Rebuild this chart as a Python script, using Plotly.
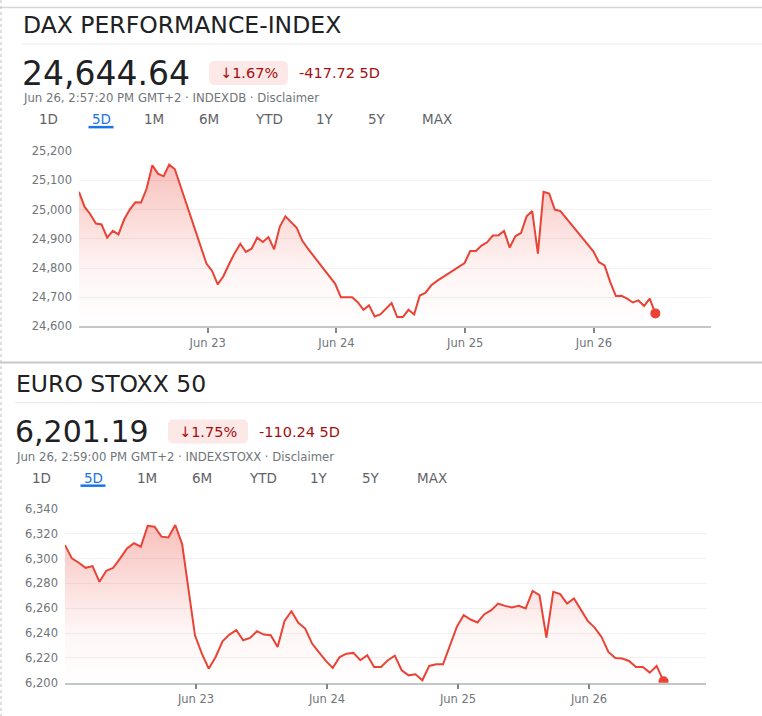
import plotly.graph_objects as go

W, H = 762, 716

# DAX, 5 Tage, Werte je Handelstag (Halbstundenraster)
dax_jun22 = [25061, 25009, 24984, 24952, 24949, 24904, 24927, 24915, 24966, 25000,
             25025, 25024, 25072, 25152, 25123, 25114, 25154, 25138]
dax_jun23 = [24815, 24790, 24744, 24772, 24813, 24851, 24883, 24855, 24866, 24904,
             24889, 24906, 24864, 24941, 24977, 24958, 24938, 24893, 24866]
dax_jun24 = [24746, 24700, 24700, 24700, 24683, 24657, 24672, 24634, 24641, 24661,
             24680, 24632, 24632, 24657, 24641, 24706, 24715, 24740, 24755]
dax_jun25 = [24817, 24858, 24858, 24877, 24888, 24911, 24912, 24927, 24870, 24909,
             24920, 24977, 24995, 24849, 25061, 25055, 25000, 24995]
dax_jun26 = [24857, 24820, 24809, 24752, 24704, 24705, 24695, 24682, 24689, 24670,
             24695, 24644.64]
dax_days = [dax_jun22, dax_jun23, dax_jun24, dax_jun25, dax_jun26]
dax_day_start = [0, 0.99, 1.99, 2.995, 3.995]
dax_step = 0.0438

# EURO STOXX 50
stoxx_jun22 = [6310.9, 6300.2, 6296.7, 6292.6, 6294.0, 6281.3, 6290.2, 6292.6, 6300.2,
               6308.2, 6312.5, 6309.6, 6326.5, 6325.7, 6317.7, 6317.1, 6327.1, 6311.7]
stoxx_jun23_26 = [6238.2, 6223.4, 6211.3, 6220.7, 6233.4, 6238.8, 6242.3, 6234.2, 6236.1,
                  6241.5, 6238.8, 6238.2, 6228.8, 6249.8, 6257.6, 6248.2, 6243.6, 6231.5,
                  6224.5, 6217.5, 6211.9, 6220.7, 6223.4, 6224.0, 6218.1, 6222.1, 6212.7,
                  6212.7, 6218.1, 6221.8, 6210.0, 6205.9, 6206.7, 6201.9, 6213.5, 6214.8,
                  6214.8, 6230.2, 6245.0, 6254.4, 6250.9, 6248.5, 6255.2, 6258.4, 6263.8,
                  6261.9, 6260.6, 6261.9, 6259.8, 6274.0, 6270.6, 6236.4, 6273.3, 6271.4,
                  6263.8, 6267.9, 6258.4, 6249.8, 6244.4, 6236.9, 6224.8, 6219.9, 6219.4,
                  6217.5, 6212.7, 6212.7, 6208.1, 6213.5, 6201.19]
stoxx_days = [stoxx_jun22, stoxx_jun23_26]
stoxx_day_start = [0, 0.992]
stoxx_step = 0.0526

tick_days = [1, 2, 3, 4]
tick_text = ["Jun 23", "Jun 24", "Jun 25", "Jun 26"]
dax_ticks = [24600, 24700, 24800, 24900, 25000, 25100, 25200]
stoxx_ticks = [6200, 6220, 6240, 6260, 6280, 6300, 6320, 6340]
tabs = ["1D", "5D", "1M", "6M", "YTD", "1Y", "5Y", "MAX"]

RED = "#ea4335"
DARK = "#202124"
GREY = "#70757a"
FONT = "DejaVu Sans"


def series(days, starts, step):
    xs, ys = [], []
    for vals, s in zip(days, starts):
        for i, v in enumerate(vals):
            xs.append(s + i * step)
            ys.append(v)
    return xs, ys


def px(x):
    return x / W


def py(y):
    # screenshot comes out slightly squeezed vertically, compensate
    return 1 - ((y - 7.04) / 0.979) / H


dax_x, dax_y = series(dax_days, dax_day_start, dax_step)
stx_x, stx_y = series(stoxx_days, stoxx_day_start, stoxx_step)

fig = go.Figure()

for xs, ys, ax, lo in [(dax_x, dax_y, "", dax_ticks[0]), (stx_x, stx_y, "2", stoxx_ticks[0])]:
    fig.add_trace(go.Scatter(
        x=xs, y=ys, mode="lines", xaxis="x" + ax, yaxis="y" + ax,
        line=dict(color=RED, width=2),
        fill="tozeroy",
        fillgradient=dict(type="vertical", start=lo, stop=max(ys),
                          colorscale=[[0, "rgba(234,67,53,0)"],
                                      [0.35, "rgba(234,67,53,0.05)"],
                                      [1, "rgba(234,67,53,0.33)"]]),
        hoverinfo="skip", showlegend=False))
    fig.add_trace(go.Scatter(
        x=[xs[-1]], y=[ys[-1]], mode="markers", xaxis="x" + ax, yaxis="y" + ax,
        marker=dict(color=RED, size=10), showlegend=False, hoverinfo="skip"))

xax = dict(tickvals=tick_days, ticktext=tick_text, showgrid=False, zeroline=False,
           showline=True, linecolor="#c4c7c5", linewidth=1.5,
           ticks="outside", ticklen=5, tickwidth=1.5, tickcolor="#80868b",
           tickfont=dict(family=FONT, size=11.5, color=GREY), fixedrange=True)
yax = dict(showgrid=True, gridcolor="#f1f1f1", gridwidth=1, zeroline=False,
           tickformat=",d", ticks="", ticklabelstandoff=6,
           tickfont=dict(family=FONT, size=11.5, color=GREY), fixedrange=True)

fig.update_layout(
    width=W, height=H,
    margin=dict(l=0, r=0, t=0, b=0),
    paper_bgcolor="white", plot_bgcolor="white",
    xaxis=dict(xax, domain=[px(79), px(711)], range=[0, 4.909]),
    yaxis=dict(yax, domain=[py(326), py(151)], range=[24600, 25200], tickvals=dax_ticks),
    xaxis2=dict(xax, domain=[px(65), px(706)], range=[0, 4.893], anchor="y2"),
    yaxis2=dict(yax, domain=[py(681.7), py(508.3)], range=[6200, 6340],
                tickvals=stoxx_ticks, anchor="x2"),
)

ann = []
shapes = []


def text(x, y, s, size, color, weight=400, anchor="left"):
    ann.append(dict(x=px(x), y=py(y), xref="paper", yref="paper", text=s, showarrow=False,
                    xanchor=anchor, yanchor="middle",
                    font=dict(family=FONT, size=size, color=color, weight=weight)))


def line(x0, y0, x1, y1, color, width=1, dash="solid"):
    shapes.append(dict(type="line", xref="paper", yref="paper", x0=px(x0), y0=py(y0),
                       x1=px(x1), y1=py(y1), line=dict(color=color, width=width, dash=dash)))


def pill(x0, y0, x1, y1, r, color):
    a, b, c, d = px(x0), py(y0), px(x1), py(y1)
    rx, ry = r / W, r / H
    path = (f"M{a+rx},{b} L{c-rx},{b} Q{c},{b} {c},{b-ry} L{c},{d+ry} Q{c},{d} {c-rx},{d} "
            f"L{a+rx},{d} Q{a},{d} {a},{d+ry} L{a},{b-ry} Q{a},{b} {a+rx},{b} Z")
    shapes.append(dict(type="path", xref="paper", yref="paper", path=path,
                       fillcolor=color, line=dict(width=0), layer="below"))


panels = [
    dict(dx=22, dy=0, title="DAX PERFORMANCE-INDEX", price="24,644.64", price_size=33,
         pct="↓1.67%", chg="-417.72 5D",
         sub="Jun 26, 2:57:20 PM GMT+2 · INDEXDB · Disclaimer",
         badge=(209, 288), chg_x=297,
         tab_x=[48, 101, 154, 209, 269, 325, 377, 437]),
    dict(dx=15, dy=358, title="EURO STOXX 50", price="6,201.19", price_size=30,
         pct="↓1.75%", chg="-110.24 5D",
         sub="Jun 26, 2:59:00 PM GMT+2 · INDEXSTOXX · Disclaimer",
         badge=(168, 248), chg_x=257,
         tab_x=[41, 93, 147, 202, 263, 319, 371, 432]),
]

for p in panels:
    dy = p["dy"]
    text(p["dx"] - 1, 25 + dy, p["title"], 23.5, DARK)
    line(p["dx"], 44 + dy, 762, 44 + dy, "#ececec", 1.2)
    text(p["dx"] - 2, 73 + dy, p["price"], p["price_size"], DARK)
    b0, b1 = p["badge"]
    pill(b0, 61 + dy, b1, 85 + dy, 6, "#fce8e6")
    text((b0 + b1) / 2, 73 + dy, p["pct"], 14.5, "#a50e0e", anchor="center")
    text(p["chg_x"], 73 + dy, p["chg"], 14.5, "#a50e0e")
    text(p["dx"] - 1, 98 + dy, p["sub"], 11.7, GREY)
    for name, tx in zip(tabs, p["tab_x"]):
        col = "#1a73e8" if name == "5D" else "#5f6368"
        text(tx, 119 + dy, name, 13.5, col, anchor="center")
    u = p["tab_x"][1]
    line(u - 12.5, 127 + dy, u + 12.5, 127 + dy, "#1a73e8", 2.5)

line(0, 7.5, 762, 7.5, "#d5d5d5", 1.5)
line(1, 0, 1, 716, "#c8c8c8", 1.2, "dot")
line(0, 362, 762, 362, "#c8c8c8", 2)

fig.update_layout(annotations=ann, shapes=shapes)
fig.write_html("out.html", config={"displayModeBar": False},
               post_script="document.body.style.margin='0';document.body.style.overflow='hidden';")
